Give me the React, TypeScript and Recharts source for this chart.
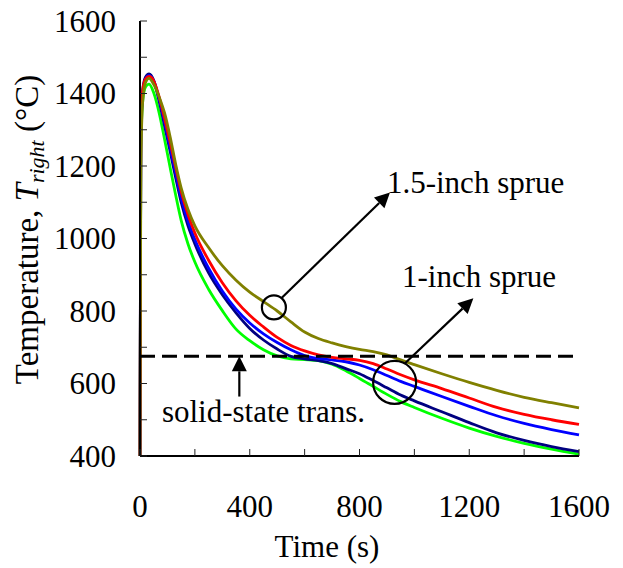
import React from "react";
import {
  LineChart,
  Line,
  XAxis,
  YAxis,
  ReferenceLine,
  ReferenceDot,
  Label,
} from "recharts";

// time in seconds
const times = [
  0, 3, 10, 20, 33, 50, 70, 90, 110, 130, 150, 175, 200, 250, 300, 350, 400,
  450, 500, 550, 600, 650, 700, 750, 800, 850, 900, 950, 1000, 1100, 1200,
  1300, 1400, 1500, 1600,
];

// temperature (°C) for each run
const greenRun = [
  400, 1250, 1380, 1418, 1426, 1402, 1346, 1272, 1195, 1120, 1050, 985, 935,
  860, 801, 750, 718, 693, 676, 668, 666, 663, 653, 635, 614, 592, 570, 550,
  534, 504, 477, 454, 435, 419, 405,
];
const navyRun = [
  400, 1290, 1410, 1445, 1454, 1436, 1378, 1310, 1240, 1168, 1100, 1035, 985,
  905, 845, 795, 752, 720, 695, 675, 668, 663, 655, 641, 627, 608, 588, 568,
  552, 522, 492, 464, 443, 426, 412,
];
const blueRun = [
  400, 1280, 1400, 1440, 1450, 1435, 1385, 1320, 1250, 1180, 1112, 1048, 997,
  918, 855, 805, 767, 737, 713, 693, 677, 669, 665, 660, 651, 638, 622, 606,
  592, 564, 537, 511, 490, 473, 458,
];
const redRun = [
  400, 1300, 1410, 1440, 1447, 1435, 1390, 1330, 1265, 1196, 1130, 1066, 1015,
  940, 878, 828, 788, 756, 727, 705, 690, 679, 672, 668, 664, 655, 640, 624,
  610, 586, 560, 534, 515, 500, 487,
];
const oliveRun = [
  400, 1200, 1380, 1430, 1442, 1425, 1390, 1345, 1280, 1205, 1140, 1080, 1035,
  975, 925, 885, 852, 826, 800, 770, 742, 724, 712, 702, 694, 688, 679, 665,
  652, 627, 603, 581, 562, 547, 533,
];

const xTicks = [0, 200, 400, 600, 800, 1000, 1200, 1400, 1600];
const yTicks = [400, 500, 600, 700, 800, 900, 1000, 1100, 1200, 1300, 1400, 1500, 1600];
const transTemp = 675;

const data = times.map((t, i) => ({
  t,
  green: greenRun[i],
  navy: navyRun[i],
  blue: blueRun[i],
  red: redRun[i],
  olive: oliveRun[i],
}));

const series = [
  { key: "green", color: "#00ff00" },
  { key: "navy", color: "#000080" },
  { key: "blue", color: "#0000ff" },
  { key: "red", color: "#ff0000" },
  { key: "olive", color: "#808000" },
];

const FONT = "Liberation Serif, Times New Roman, serif";

const XTick = ({ x, y, payload }: any) => (
  <g>
    <line x1={x} y1={y} x2={x} y2={y - 7} stroke="#222" strokeWidth={1} />
    {payload.value % 400 === 0 && (
      <text x={x} y={y + 61} textAnchor="middle" fontSize={31} fontFamily={FONT} fill="#000">
        {payload.value}
      </text>
    )}
  </g>
);

const YTick = ({ x, y, payload }: any) => (
  <g>
    <line x1={x} y1={y} x2={x + 7} y2={y} stroke="#222" strokeWidth={1} />
    {payload.value % 200 === 0 && (
      <text x={x - 24} y={y + 10.5} textAnchor="end" fontSize={31} fontFamily={FONT} fill="#000">
        {payload.value}
      </text>
    )}
  </g>
);

const YTitle = ({ viewBox }: any) => {
  const cx = viewBox.x + 38;
  const cy = viewBox.y + viewBox.height / 2 - 9;
  return (
    <text
      x={cx}
      y={cy}
      transform={`rotate(-90, ${cx}, ${cy})`}
      textAnchor="middle"
      fontSize={33}
      fontFamily={FONT}
      fill="#000"
    >
      Temperature,{" "}
      <tspan fontStyle="italic">T</tspan>
      <tspan fontStyle="italic" fontSize={22} dy={6}>
        right
      </tspan>
      <tspan dy={-6}> (°C)</tspan>
    </text>
  );
};

// line with a filled arrowhead at the second end point
const arrowShape = (props: any) => {
  const { x1, y1, x2, y2 } = props;
  const dx = x2 - x1;
  const dy = y2 - y1;
  const len = Math.sqrt(dx * dx + dy * dy);
  const ux = dx / len;
  const uy = dy / len;
  const hl = 15;
  const hw = 7.5;
  const bx = x2 - ux * hl;
  const by = y2 - uy * hl;
  const pts = `${x2},${y2} ${bx - uy * hw},${by + ux * hw} ${bx + uy * hw},${by - ux * hw}`;
  return (
    <g>
      <line x1={x1} y1={y1} x2={bx} y2={by} stroke="#000" strokeWidth={2.2} />
      <polygon points={pts} fill="#000" />
    </g>
  );
};

const textAt = (value: string) => (props: any) => (
  <text x={props.cx} y={props.cy} fontSize={31} fontFamily={FONT} fill="#000">
    {value}
  </text>
);

export default function App() {
  return (
    <div style={{ position: "absolute", left: 0, top: 0, background: "#fff" }}>
      <LineChart
        width={623}
        height={568}
        data={data}
        margin={{ top: 21, right: 44, bottom: 0, left: 0 }}
      >
        <XAxis
          dataKey="t"
          type="number"
          domain={[0, 1600]}
          ticks={xTicks}
          interval={0}
          height={112}
          tickSize={0}
          tickMargin={0}
          tick={<XTick />}
          axisLine={{ stroke: "#000", strokeWidth: 2 }}
          tickLine={false}
        >
          <Label
            value="Time (s)"
            content={({ viewBox }: any) => (
              <text
                x={327}
                y={viewBox.y + 101}
                textAnchor="middle"
                fontSize={31}
                fontFamily={FONT}
                fill="#000"
              >
                Time (s)
              </text>
            )}
          />
        </XAxis>
        <XAxis
          xAxisId="top"
          orientation="top"
          dataKey="t"
          type="number"
          domain={[0, 1600]}
          height={0}
          tick={false}
          tickLine={false}
          axisLine={{ stroke: "#000", strokeWidth: 2 }}
        />
        <YAxis
          type="number"
          domain={[400, 1600]}
          ticks={yTicks}
          interval={0}
          width={140}
          tickSize={0}
          tickMargin={0}
          tick={<YTick />}
          axisLine={{ stroke: "#000", strokeWidth: 2 }}
          tickLine={false}
          allowDataOverflow
        >
          <Label content={<YTitle />} />
        </YAxis>
        <YAxis
          yAxisId="right"
          orientation="right"
          type="number"
          domain={[400, 1600]}
          width={0}
          tick={false}
          tickLine={false}
          axisLine={{ stroke: "#000", strokeWidth: 2 }}
        />

        {series.map((s) => (
          <Line
            key={s.key}
            type="monotone"
            dataKey={s.key}
            stroke={s.color}
            strokeWidth={2.8}
            dot={false}
            isAnimationActive={false}
          />
        ))}

        <ReferenceLine
          y={transTemp}
          stroke="#000"
          strokeWidth={3}
          strokeDasharray="15 7"
        />

        {/* solid-state transformation marker */}
        <ReferenceLine
          segment={[
            { x: 362, y: 564 },
            { x: 362, y: transTemp },
          ]}
          shape={arrowShape}
        />
        <ReferenceDot x={80} y={495} r={0} shape={textAt("solid-state trans.")} />

        {/* 1.5-inch sprue */}
        <ReferenceDot x={488} y={810} r={12} fill="none" stroke="#000" strokeWidth={2.2} />
        <ReferenceLine
          segment={[
            { x: 516, y: 836 },
            { x: 911, y: 1127 },
          ]}
          shape={arrowShape}
        />
        <ReferenceDot x={900} y={1126} r={0} shape={textAt("1.5-inch sprue")} />

        {/* 1-inch sprue */}
        <ReferenceDot x={928} y={603} r={21.5} fill="none" stroke="#000" strokeWidth={2.2} />
        <ReferenceLine
          segment={[
            { x: 966, y: 656 },
            { x: 1215, y: 835 },
          ]}
          shape={arrowShape}
        />
        <ReferenceDot x={955} y={865} r={0} shape={textAt("1-inch sprue")} />
      </LineChart>
    </div>
  );
}
